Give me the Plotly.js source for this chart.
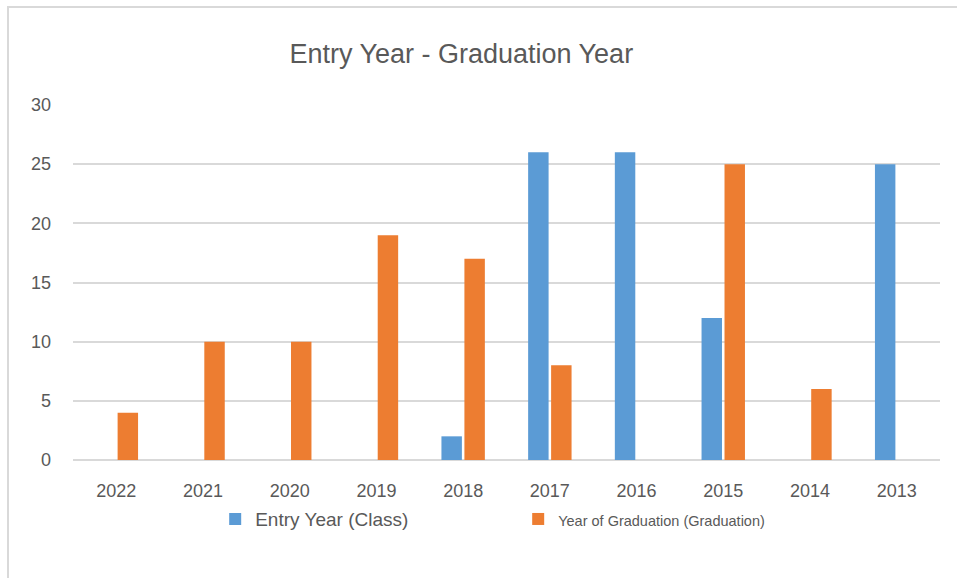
<!DOCTYPE html>
<html>
<head>
<meta charset="utf-8">
<script src="https://cdn.plot.ly/plotly-3.0.1.min.js"></script>
<style>
  html, body { margin: 0; padding: 0; background: #ffffff; }
  #wrap { position: relative; width: 957px; height: 578px; overflow: hidden; }
  #chart { position: absolute; left: 0; top: 0; width: 957px; height: 578px; }
  #frame { position: absolute; left: 7px; top: 6px; width: 960px; height: 600px;
           border-left: 2px solid #d9d9d9; border-top: 2px solid #d9d9d9; pointer-events: none; }
</style>
</head>
<body>
<div id="wrap">
  <div id="chart"></div>
  <div id="frame"></div>
</div>
<script>
const categories = ["2022", "2021", "2020", "2019", "2018", "2017", "2016", "2015", "2014", "2013"];
const entryYear = [null, null, null, null, 2, 26, 26, 12, null, 25];
const graduationYear = [4, 10, 10, 19, 17, 8, null, 25, 6, null];
const seriesNames = ["Entry Year (Class)", "Year of Graduation (Graduation)"];
const titleText = "Entry Year - Graduation Year";

const textColor = "#595959";
const gridColor = "#d9d9d9";

const traces = [
  {
    type: "bar",
    name: seriesNames[0],
    x: categories,
    y: entryYear,
    marker: { color: "#5b9bd5" },
    hoverinfo: "x+y+name"
  },
  {
    type: "bar",
    name: '<span style="font-size:14.5px">' + seriesNames[1] + '</span>',
    x: categories,
    y: graduationYear,
    marker: { color: "#ed7d31" },
    hoverinfo: "x+y+name"
  }
];

const layout = {
  width: 957,
  height: 578,
  margin: { l: 73, r: 17, t: 105, b: 118 },
  paper_bgcolor: "#ffffff",
  plot_bgcolor: "#ffffff",
  font: { family: "Liberation Sans, Arial, sans-serif", color: textColor, size: 18 },
  title: {
    text: titleText,
    font: { size: 27, color: textColor, family: "Liberation Sans, Arial, sans-serif" },
    x: 0.482, xref: "container", xanchor: "center",
    y: 0.908, yref: "container", yanchor: "middle"
  },
  barmode: "group",
  bargap: 0.47,
  bargroupgap: 0.11,
  xaxis: {
    type: "category",
    categoryorder: "array",
    categoryarray: categories,
    showgrid: false,
    showline: false,
    zeroline: false,
    ticks: "",
    ticklabelstandoff: 18,
    tickfont: { size: 18, color: textColor }
  },
  yaxis: {
    range: [0, 30],
    dtick: 5,
    tick0: 0,
    showgrid: true,
    gridcolor: gridColor,
    gridwidth: 1.5,
    zeroline: true,
    zerolinecolor: gridColor,
    zerolinewidth: 1.5,
    showline: false,
    ticks: "",
    ticklabelstandoff: 21,
    tickfont: { size: 18, color: textColor }
  },
  showlegend: true,
  legend: {
    orientation: "h",
    x: 0.164,
    xanchor: "left",
    y: -0.113,
    yanchor: "top",
    entrywidth: 258,
    font: { size: 19, color: textColor },
    bgcolor: "rgba(0,0,0,0)"
  }
};

Plotly.newPlot("chart", traces, layout, { displayModeBar: false, responsive: false });
</script>
</body>
</html>
